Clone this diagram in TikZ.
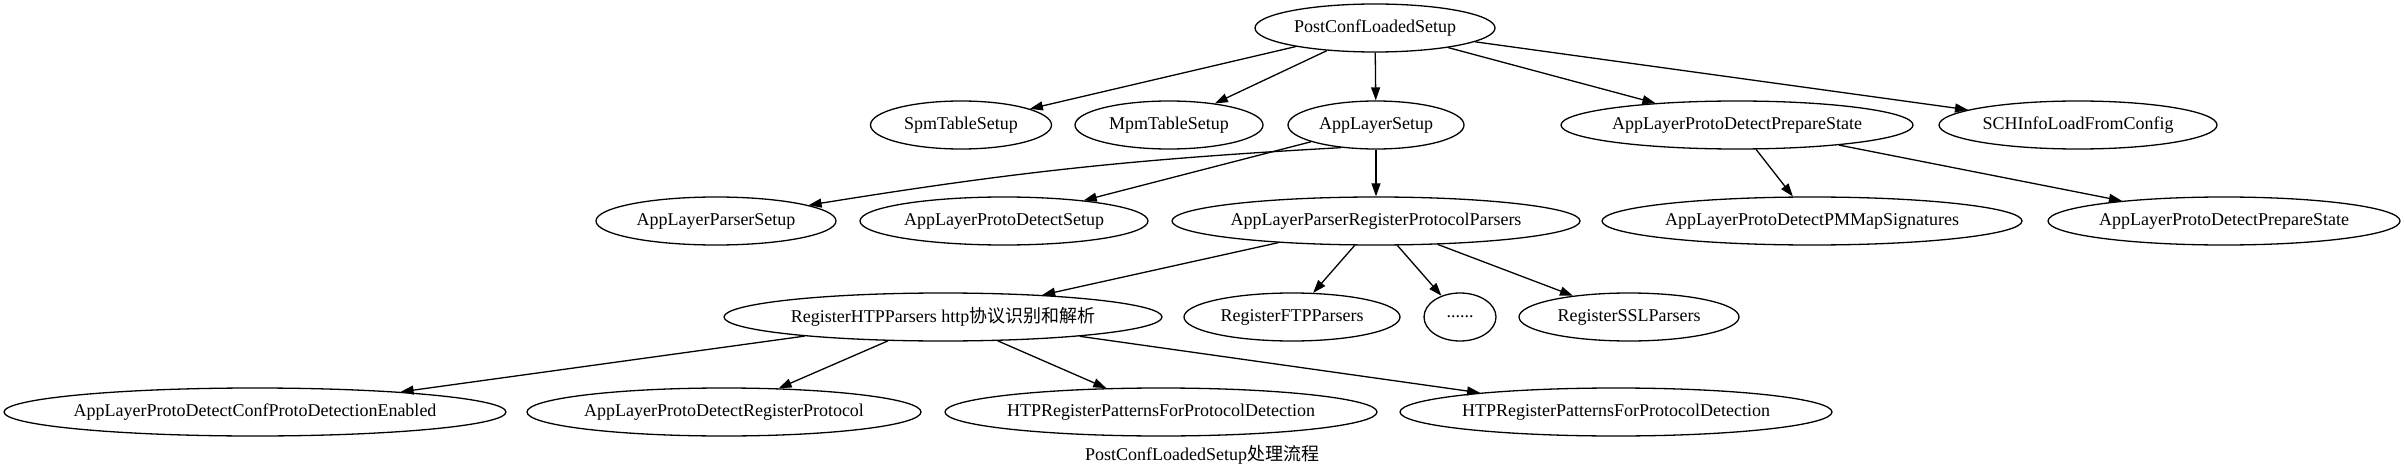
\documentclass[tikz,border=0pt]{standalone}
\usepackage{fontspec}
\setmainfont{Liberation Serif}
\newfontfamily\cjk{Noto Sans CJK SC}
\usetikzlibrary{shapes.geometric,arrows.meta}
\newcommand\zb[1]{\makebox[0pt]{#1}}
\begin{document}
\begin{tikzpicture}[x=1pt,y=-1pt,
  ell/.style={draw, ellipse, line width=1.3pt, inner sep=0pt, minimum height=48pt, font=\fontsize{18}{20}\selectfont},
  edge/.style={line width=1.3pt, -{Triangle[length=13pt,width=9pt]}}]
\useasboundingbox (0,0) rectangle (2405,473);
% row 1
\node[ell, minimum width=240pt] (post) at (1375,28) {\zb{PostConfLoadedSetup}};
% row 2
\node[ell, minimum width=181pt] (spm) at (961,125) {\zb{SpmTableSetup}};
\node[ell, minimum width=188pt] (mpm) at (1169,125) {\zb{MpmTableSetup}};
\node[ell, minimum width=176pt] (als) at (1376,125) {\zb{AppLayerSetup}};
\node[ell, minimum width=352pt] (pds) at (1737,125) {\zb{AppLayerProtoDetectPrepareState}};
\node[ell, minimum width=278pt] (sch) at (2078,125) {\zb{SCHInfoLoadFromConfig}};
% row 3
\node[ell, minimum width=240pt] (lps) at (716,221) {\zb{AppLayerParserSetup}};
\node[ell, minimum width=288pt] (pdset) at (1004,221) {\zb{AppLayerProtoDetectSetup}};
\node[ell, minimum width=408pt] (rpp) at (1376,221) {\zb{AppLayerParserRegisterProtocolParsers}};
\node[ell, minimum width=420pt] (pmm) at (1812,221) {\zb{AppLayerProtoDetectPMMapSignatures}};
\node[ell, minimum width=352pt] (pds2) at (2224,221) {\zb{AppLayerProtoDetectPrepareState}};
% row 4
\node[ell, minimum width=438pt] (htp) at (943,317) {\zb{RegisterHTPParsers http{\cjk 协议识别和解析}}};
\node[ell, minimum width=216pt] (ftp) at (1292,317) {\zb{RegisterFTPParsers}};
\node[ell, minimum width=72pt] (dots) at (1460,317) {\zb{......}};
\node[ell, minimum width=220pt] (ssl) at (1629,317) {\zb{RegisterSSLParsers}};
% row 5
\node[ell, minimum width=502pt] (conf) at (255,412) {\zb{AppLayerProtoDetectConfProtoDetectionEnabled}};
\node[ell, minimum width=394pt] (reg) at (724,412) {\zb{AppLayerProtoDetectRegisterProtocol}};
\node[ell, minimum width=432pt] (pat1) at (1161,412) {\zb{HTPRegisterPatternsForProtocolDetection}};
\node[ell, minimum width=432pt] (pat2) at (1616,412) {\zb{HTPRegisterPatternsForProtocolDetection}};
% caption
\node[font=\fontsize{18}{20}\selectfont, inner sep=0pt] (cap) at (1202,455) {PostConfLoadedSetup{\cjk 处理流程}};
% edges
\draw[edge] (post) -- (spm);
\draw[edge] (post) -- (mpm);
\draw[edge] (post) -- (als);
\draw[edge] (post) -- (pds);
\draw[edge] (post) -- (sch);
\draw[edge] (als.213) to[bend right=3] (lps);
\draw[edge] (als) -- (pdset);
\draw[edge] (als) -- (rpp);
\draw[edge] (pds) -- (pmm);
\draw[edge] (pds) -- (pds2);
\draw[edge] (rpp) -- (htp);
\draw[edge] (rpp) -- (ftp);
\draw[edge] (rpp) -- (dots);
\draw[edge] (rpp) -- (ssl);
\draw[edge] (htp) -- (conf);
\draw[edge] (htp) -- (reg);
\draw[edge] (htp) -- (pat1);
\draw[edge] (htp) -- (pat2);
\end{tikzpicture}
\end{document}
